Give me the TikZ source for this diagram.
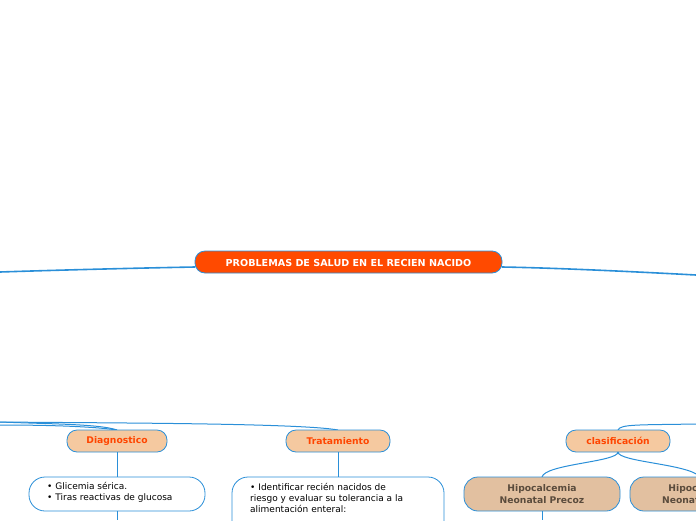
\documentclass[tikz,border=0pt]{standalone}
\usepackage{fontspec}
\setmainfont{DejaVu Sans}
\definecolor{ln}{HTML}{2A8FD8}
\definecolor{cen}{HTML}{FF4A00}
\definecolor{pk}{HTML}{F5C9A0}
\definecolor{hb}{HTML}{E2C0A0}
\definecolor{htx}{HTML}{5A4B3C}
\definecolor{otx}{HTML}{FF4500}
\begin{document}
\begin{tikzpicture}[x=1pt,y=-1pt,
  conn/.style={draw=ln, line width=1.6pt},
  thin/.style={draw=ln, line width=1pt},
  pill/.style={draw=ln, line width=0.8pt, rounded corners=10pt},
  lbl/.style={font=\fontsize{9.2}{10}\selectfont\bfseries, text=otx},
  hlbl/.style={font=\fontsize{9.2}{11.5}\selectfont\bfseries, text=htx, align=center},
  body/.style={font=\fontsize{9}{11.2}\selectfont, align=left, anchor=north west, inner sep=0pt}]
\useasboundingbox (0,0) rectangle (696,520);
\clip (0,0) rectangle (696,520);
% main connectors
\coordinate (L) at (0,272);
\coordinate (R) at (696,275);
\draw[conn] (L) .. controls (60,270) and (140,268) .. (195,267);
\draw[conn] (502,267) .. controls (560,268) and (640,272) .. (R);
% central
\draw[pill, fill=cen] (195,251) rectangle (502,273);
\node[font=\fontsize{9.6}{10}\selectfont\bfseries, text=white] (c) at (348.5,262.5) {PROBLEMAS DE SALUD EN EL RECIEN NACIDO};
% left branches
\coordinate (L2) at (0,422);
\draw[thin] (L2) .. controls (50,424) and (100,424) .. (117,430);
\draw[thin] (L2) .. controls (100,423) and (300,423) .. (338,430);
\draw[thin] (0,425) .. controls (40,425) and (90,426) .. (117,430);
% Diagnostico / Tratamiento
\draw[pill, fill=pk] (67,430) rectangle (167,452);
\node[lbl] (d) at (117,441) {Diagnostico};
\draw[pill, fill=pk] (286,430) rectangle (390,452);
\node[lbl] (t) at (338,441) {Tratamiento};
\draw[thin] (117,452) -- (117,477);
\draw[thin] (338,452) -- (338,477);
\draw[pill, fill=white, rounded corners=16pt] (29,477) rectangle (205,511);
\node[body] (b1) at (47,482) {• Glicemia sérica.\\• Tiras reactivas de glucosa};
\draw[thin] (117,511) -- (117,520);
\draw[pill, fill=white, rounded corners=16pt] (232,477) rectangle (444,560);
\node[body] (b2) at (250,483) {• Identificar recién nacidos de\\riesgo y evaluar su tolerancia a la\\alimentación enteral:};
% right
\draw[thin] (696,424) .. controls (640,425) and (620,424) .. (618,430);
\draw[pill, fill=pk] (566,430) rectangle (670,452);
\node[lbl] (cl) at (618,441) {clasificación};
\draw[thin] (618,452) .. controls (618,462) and (545,464) .. (542,477);
\draw[thin] (618,452) .. controls (618,462) and (690,464) .. (700,477);
\draw[pill, fill=hb, rounded corners=14pt] (464,477) rectangle (620,511);
\node[hlbl] (h1) at (542,494) {Hipocalcemia\\Neonatal Precoz};
\draw[pill, fill=hb, rounded corners=14pt] (630,477) rectangle (800,511);
\node[hlbl] (h2) at (703,494) {Hipocalcemia\\Neonatal Tardía};
\draw[thin] (542,511) -- (542,520);
\end{tikzpicture}
\end{document}
